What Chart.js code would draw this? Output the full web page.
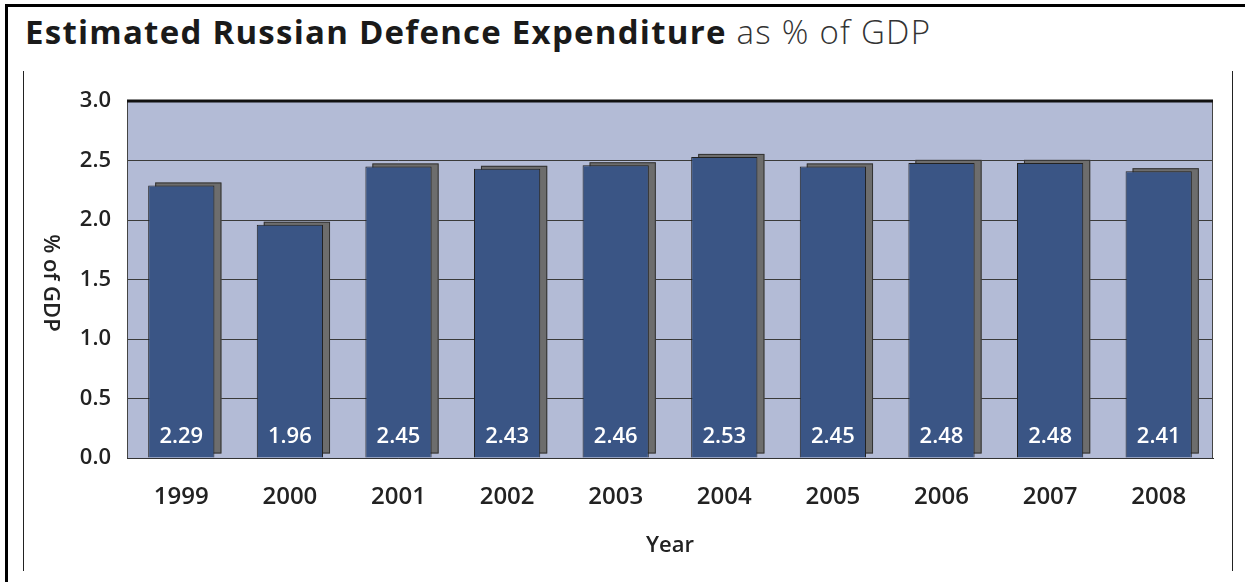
<!DOCTYPE html>
<html>
<head>
<meta charset="utf-8">
<script src="https://cdn.jsdelivr.net/npm/chart.js@4"></script>
<style>
    html, body { margin: 0; padding: 0; background: #fff; }
    #page { position: relative; width: 1245px; height: 582px; overflow: hidden; }
    #frame { position: absolute; left: 5px; top: 4px; right: 0; bottom: -5px; border-left: 3px solid #000; border-top: 3px solid #000; }
    #innerL { position: absolute; left: 23px; top: 71px; width: 1px; height: 500px; background: #222; }
    #innerR { position: absolute; left: 1232px; top: 71px; width: 1px; height: 500px; background: #222; }
    #title { position: absolute; left: 25px; top: 9px; font-family: "Open Sans", sans-serif; font-size: 33px; color: #1a1a1a; white-space: nowrap; letter-spacing: 1.25px; }
    #title b { font-weight: 700; }
    #title span { font-weight: 300; color: #333; }
    #chartBox { position: absolute; left: 0; top: 0; width: 1245px; height: 582px; }
</style>
</head>
<body>
<div id="page">
    <div id="frame"></div>
    <div id="innerL"></div>
    <div id="innerR"></div>
    <div id="title"><b>Estimated Russian Defence Expenditure</b> <span>as % of GDP</span></div>
    <div id="chartBox"><canvas id="chart" width="1245" height="582"></canvas></div>
</div>
<script>
    // data
    const years = ['1999', '2000', '2001', '2002', '2003', '2004', '2005', '2006', '2007', '2008'];
    const gdpShare = [2.29, 1.96, 2.45, 2.43, 2.46, 2.53, 2.45, 2.48, 2.48, 2.41];
    const yTitle = '% of GDP';
    const xTitle = 'Year';

    const fontFamily = '"Open Sans", sans-serif';

    // plot background + frame
    const plotFrame = {
        id: 'plotFrame',
        beforeDraw(chart) {
            const { ctx, chartArea: a } = chart;
            ctx.save();
            ctx.fillStyle = '#b3bbd6';
            ctx.fillRect(a.left, a.top, a.right - a.left, a.bottom - a.top);
            ctx.restore();
        },
        afterDraw(chart) {
            const { ctx, chartArea: a } = chart;
            ctx.save();
            ctx.strokeStyle = '#444';
            ctx.lineWidth = 1;
            ctx.beginPath();
            ctx.moveTo(a.left + 0.5, a.top);
            ctx.lineTo(a.left + 0.5, a.bottom);
            ctx.moveTo(a.right - 0.5, a.top);
            ctx.lineTo(a.right - 0.5, a.bottom);
            ctx.stroke();
            ctx.strokeStyle = '#111';
            ctx.lineWidth = 3;
            ctx.beginPath();
            ctx.moveTo(a.left, a.top);
            ctx.lineTo(a.right, a.top);
            ctx.stroke();
            ctx.restore();
        }
    };

    // grey 3d shadow behind each bar
    const barShadow = {
        id: 'barShadow',
        beforeDatasetsDraw(chart) {
            const { ctx } = chart;
            const meta = chart.getDatasetMeta(0);
            ctx.save();
            meta.data.forEach(bar => {
                const w = bar.width;
                const x = bar.x - w / 2 + 7;
                const y = bar.y - 3;
                const h = bar.base - 4 - y;
                ctx.fillStyle = '#6d6d6d';
                ctx.fillRect(x, y, w, h);
                ctx.strokeStyle = '#333';
                ctx.lineWidth = 1;
                ctx.strokeRect(x + 0.5, y + 0.5, w - 1, h - 1);
            });
            ctx.restore();
        }
    };

    // white value labels at the foot of bars
    const valueLabels = {
        id: 'valueLabels',
        afterDatasetsDraw(chart) {
            const { ctx } = chart;
            const meta = chart.getDatasetMeta(0);
            ctx.save();
            ctx.fillStyle = '#fff';
            ctx.font = '600 22px ' + fontFamily;
            ctx.textAlign = 'center';
            ctx.textBaseline = 'middle';
            meta.data.forEach((bar, i) => {
                ctx.fillText(gdpShare[i].toFixed(2), bar.x, bar.base - 21);
            });
            ctx.restore();
        }
    };

    // y title reads top to bottom
    const sideTitle = {
        id: 'sideTitle',
        afterDraw(chart) {
            const { ctx } = chart;
            ctx.save();
            ctx.translate(50, 283);
            ctx.rotate(Math.PI / 2);
            ctx.fillStyle = '#222';
            ctx.font = '600 22px ' + fontFamily;
            ctx.textAlign = 'center';
            ctx.textBaseline = 'middle';
            ctx.fillText(yTitle, 0, 0);
            ctx.restore();
        }
    };

    new Chart(document.getElementById('chart'), {
        type: 'bar',
        data: {
            labels: years,
            datasets: [{
                data: gdpShare,
                backgroundColor: '#3a5585',
                borderColor: '#222',
                borderWidth: 1,
                barPercentage: 0.61,
                categoryPercentage: 1
            }]
        },
        options: {
            responsive: false,
            animation: false,
            layout: { padding: { left: 0, right: 32, top: 101, bottom: 0 } },
            plugins: { legend: { display: false }, tooltip: { enabled: false } },
            scales: {
                x: {
                    afterFit(scale) { scale.height = 124; },
                    grid: { display: false, drawTicks: false },
                    border: { display: true, color: '#333', width: 1 },
                    ticks: { color: '#222', font: { family: fontFamily, size: 24, weight: '600' }, padding: 25, maxRotation: 0 },
                    title: {
                        display: true,
                        text: xTitle,
                        color: '#222',
                        font: { family: fontFamily, size: 22, weight: '600' },
                        padding: { top: 0, bottom: 23 }
                    }
                },
                y: {
                    min: 0,
                    max: 3,
                    afterFit(scale) { scale.width = 127; },
                    grid: { color: '#3a3a3a', lineWidth: 1, drawTicks: false },
                    border: { display: false },
                    ticks: {
                        stepSize: 0.5,
                        color: '#222',
                        font: { family: fontFamily, size: 22, weight: '600' },
                        padding: 16,
                        callback: v => Number(v).toFixed(1)
                    }
                }
            }
        },
        plugins: [plotFrame, barShadow, valueLabels, sideTitle]
    });
</script>
</body>
</html>
